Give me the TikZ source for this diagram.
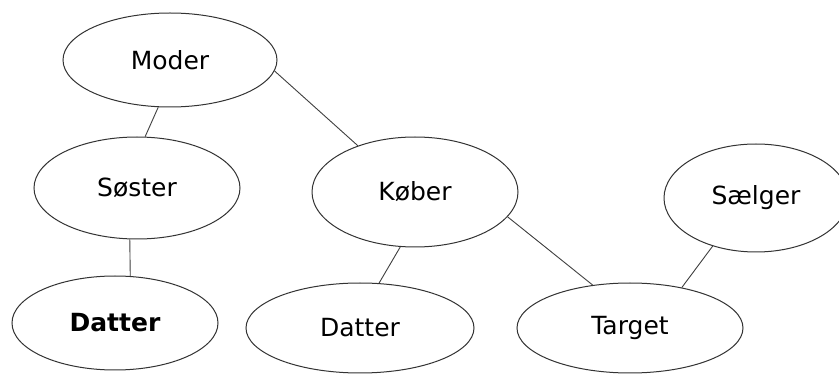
\documentclass[tikz,border=0pt]{standalone}
\usepackage{fontspec}
\setmainfont{DejaVu Sans}
\usetikzlibrary{shapes.geometric}
\begin{document}
\begin{tikzpicture}[x=1pt,y=-1pt,
  ent/.style={draw=black!80, line width=1pt, ellipse, inner sep=0pt,
    font=\fontsize{25}{30}\selectfont, text=black},
  link/.style={draw=black!75, line width=0.9pt}]
\clip (0,0) rectangle (839,374);
\fill[white] (0,0) rectangle (839,374);
\node[ent, minimum width=214pt, minimum height=94pt] (moder) at (170,60) {Moder};
\node[ent, minimum width=206pt, minimum height=102pt] (soster) at (137,188) {Søster};
\node[ent, minimum width=206pt, minimum height=94pt, font=\fontsize{25}{30}\selectfont\bfseries] (datterb) at (115,323) {Datter};
\node[ent, minimum width=206pt, minimum height=110pt] (kober) at (415,192) {Køber};
\node[ent, minimum width=228pt, minimum height=90pt] (datter) at (360,328) {Datter};
\node[ent, minimum width=226pt, minimum height=90pt] (target) at (630,328) {Target};
\node[ent, minimum width=184pt, minimum height=108pt] (saelger) at (756,198) {Sælger};
\draw[link] (moder.256) -- (soster.81);
\draw[link] (moder.354) -- (kober.141);
\draw[link] (soster.262) -- (datterb.72);
\draw[link] (kober.255) -- (datter.67);
\draw[link] (kober.345) -- (target.131);
\draw[link] (saelger.228) -- (target.38);
\end{tikzpicture}
\end{document}
